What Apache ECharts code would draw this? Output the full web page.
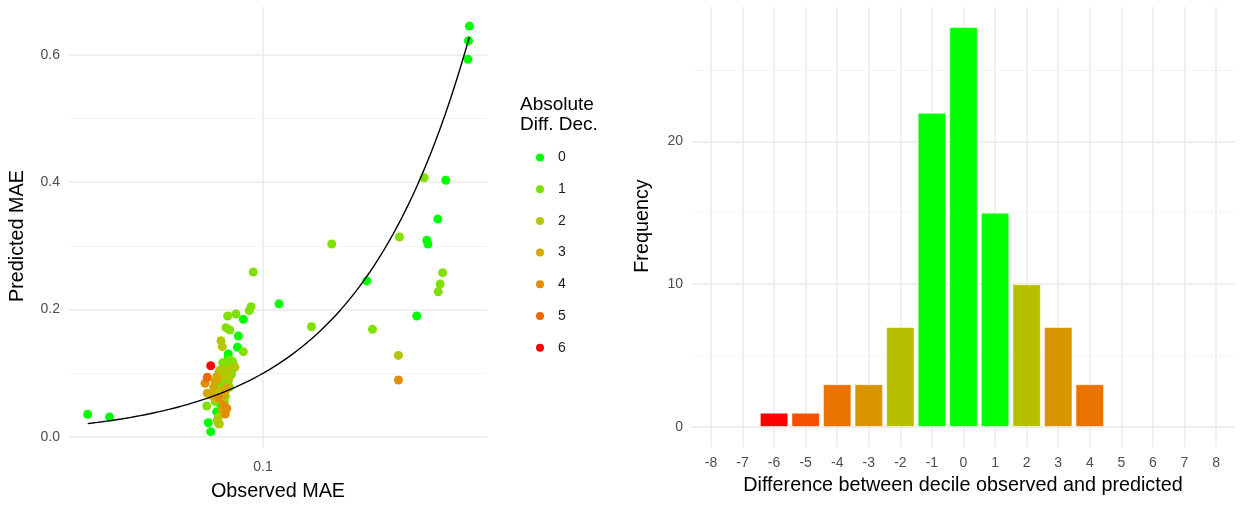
<!DOCTYPE html>
<html><head><meta charset="utf-8">
<script src="https://cdn.jsdelivr.net/npm/echarts@6/dist/echarts.min.js"></script>
<style>html,body{margin:0;padding:0;background:#fff}#c{width:1240px;height:507px}</style>
</head><body><div id="c"></div><script>
// ---------- DATA ----------
// Scatter: [Observed MAE, Predicted MAE] grouped by absolute decile difference
const diffLevels = ['0', '1', '2', '3', '4', '5', '6'];
const pointsDiff0 = [
  [0.021,0.0356],[0.0255,0.0314],[0.628,0.645],[0.623,0.622],[0.62,0.593],[0.509,0.403],
  [0.474,0.342],[0.43,0.309],[0.434,0.303],[0.252,0.245],[0.393,0.19],[0.1153,0.209],
  [0.0839,0.1848],[0.0803,0.1586],[0.0796,0.1408],[0.0734,0.1303],[0.0734,0.1235],[0.0682,0.0801],
  [0.0678,0.0608],[0.0678,0.0538],[0.0662,0.0397],[0.0615,0.0224],[0.0628,0.0083],
  [0.0692,0.0745],[0.0682,0.0895],[0.0706,0.0662],[0.0745,0.115],[0.0699,0.0475]
];
const pointsDiff1 = [
  [0.42,0.407],[0.337,0.314],[0.1844,0.303],[0.495,0.258],[0.484,0.240],[0.476,0.228],[0.265,0.169],[0.154,0.173],
  [0.0917,0.259],[0.0899,0.2046],[0.0885,0.1983],[0.0786,0.1931],[0.073,0.19],[0.0719,0.1716],[0.0745,0.168],
  [0.0839,0.1339],[0.0699,0.1166],[0.0757,0.1041],[0.0699,0.0895],[0.0606,0.0487],
  [0.0722,0.112],[0.0712,0.1],[0.0765,0.108],[0.0755,0.098],[0.0728,0.093],[0.0702,0.083],[0.0741,0.078],
  [0.0768,0.114],[0.0688,0.072],[0.0715,0.064],[0.0695,0.105],[0.0734,0.0875],[0.0709,0.055],[0.0653,0.056],
  [0.0675,0.101],[0.0742,0.121],[0.0762,0.1185]
];
const pointsDiff2 = [
  [0.334,0.128],
  [0.0688,0.1512],[0.0696,0.1418],[0.0779,0.1094],[0.0682,0.1052],[0.0741,0.0937],[0.0678,0.0686],
  [0.0652,0.0608],[0.0666,0.0267],[0.0678,0.0204],[0.0672,0.0215],
  [0.0708,0.098],[0.0665,0.075],[0.0692,0.058],[0.0672,0.031],[0.0725,0.105],[0.0645,0.066]
];
const pointsDiff3 = [
  [0.0662,0.0947],[0.0652,0.0868],[0.0724,0.078],[0.0609,0.0686],[0.0702,0.0659],
  [0.0632,0.0655],[0.0668,0.09],[0.0715,0.072],[0.0645,0.078],[0.0698,0.0425]
];
const pointsDiff4 = [
  [0.334,0.0895],[0.0597,0.0843],[0.0702,0.0502],[0.0715,0.036],[0.0725,0.045],[0.0672,0.062]
];
const pointsDiff5 = [[0.0609,0.0937]];
const pointsDiff6 = [[0.0628,0.1119]];
const scatterGroups = [pointsDiff0, pointsDiff1, pointsDiff2, pointsDiff3, pointsDiff4, pointsDiff5, pointsDiff6];

// Histogram
const histDiffs = [-6, -5, -4, -3, -2, -1, 0, 1, 2, 3, 4];
const histFreq  = [ 1,  1,  3,  3,  7, 22, 28, 15, 10, 7, 3];
const histTickLabels = [-8,-7,-6,-5,-4,-3,-2,-1,0,1,2,3,4,5,6,7,8];

// Texts
const titles = {
  legend: 'Absolute\nDiff. Dec.',
  leftY: 'Predicted MAE',
  leftX: 'Observed MAE',
  rightY: 'Frequency',
  rightX: 'Difference between decile observed and predicted'
};

// ---------- STYLES ----------
const levelColors = ['#00FF00','#80E000','#B4C800','#D4AA00','#E38D00','#EF6700','#FF0000'];
const barColorByDiff = {'-6':'#FF0000','-5':'#F54F00','-4':'#EA7300','-3':'#D99500','-2':'#B6C000',
  '-1':'#00FF00','0':'#00FF00','1':'#00FF00','2':'#B6C000','3':'#D99500','4':'#EA7300'};
const FONT = 'Liberation Sans, Arial, sans-serif';
const tickStyle = {color:'#4D4D4D', fontSize:14, fontFamily:FONT};
const majorLine = {color:'#EBEBEB', width:1.5};
const minorLine = {color:'#F2F2F2', width:0.8};
const titleStyle = (text) => ({text, fontSize:19.8, fontFamily:FONT, fill:'#000', align:'center', verticalAlign:'middle'});

// identity reference line (y = x) spanning observed range
const allObs = scatterGroups.flat().map(p => p[0]);
const obsMin = Math.min(...allObs), obsMax = Math.max(...allObs);
const identityLine = [];
for (let i = 0; i <= 80; i++) {
  const v = Math.exp(Math.log(obsMin) + (Math.log(obsMax) - Math.log(obsMin)) * i / 80);
  identityLine.push([v, v]);
}

const near = (v, step) => Math.abs(v / step - Math.round(v / step)) < 1e-6;

const chart = echarts.init(document.getElementById('c'), null, {renderer:'canvas'});
const option = {
  animation: false,
  backgroundColor: '#fff',
  grid: [
    {left: 69, top: 7, width: 418, height: 441},
    {left: 692, top: 7, width: 543, height: 440}
  ],
  xAxis: [
    {type:'log', gridIndex:0, logBase:10, min:0.01778, max:0.7348,
     axisLine:{show:false}, axisTick:{show:false},
     axisLabel:{...tickStyle, margin:12, formatter: v => (Math.abs(v-0.1)<1e-9 ? '0.1' : '')},
     splitLine:{show:true, lineStyle:majorLine, showMinLine:false, showMaxLine:false},
     minorSplitLine:{show:false}},
    {type:'value', gridIndex:1, min:-8.6, max:8.6, minInterval:1, maxInterval:1,
     axisLine:{show:false}, axisTick:{show:false},
     axisLabel:{...tickStyle, margin:9, formatter: v => (near(v,1) ? String(Math.round(v)) : '')},
     splitLine:{show:true, lineStyle:majorLine, showMinLine:false, showMaxLine:false}}
  ],
  yAxis: [
    {type:'value', gridIndex:0, min:-0.0173, max:0.675, minInterval:0.2, maxInterval:0.2,
     axisLine:{show:false}, axisTick:{show:false},
     axisLabel:{...tickStyle, margin:9, formatter: v => (near(v,0.2) ? v.toFixed(1) : '')},
     splitLine:{show:true, lineStyle:majorLine, showMinLine:false, showMaxLine:false}, z:1},
    {type:'value', gridIndex:0, min:-0.0173, max:0.675, minInterval:0.1, maxInterval:0.1,
     position:'left', axisLine:{show:false}, axisTick:{show:false}, axisLabel:{show:false},
     splitLine:{show:true, lineStyle:minorLine, showMinLine:false, showMaxLine:false}, z:0},
    {type:'value', gridIndex:1, min:-1.4, max:29.4, minInterval:10, maxInterval:10,
     axisLine:{show:false}, axisTick:{show:false},
     axisLabel:{...tickStyle, margin:9, formatter: v => (near(v,10) ? String(Math.round(v)) : '')},
     splitLine:{show:true, lineStyle:majorLine, showMinLine:false, showMaxLine:false}, z:1},
    {type:'value', gridIndex:1, min:-1.4, max:29.4, minInterval:5, maxInterval:5,
     position:'left', axisLine:{show:false}, axisTick:{show:false}, axisLabel:{show:false},
     splitLine:{show:true, lineStyle:minorLine, showMinLine:false, showMaxLine:false}, z:0}
  ],
  legend: {
    orient:'vertical', left:531, top:145.5, itemGap:17.7,
    itemWidth:8, itemHeight:8, icon:'circle', selectedMode:false,
    data: diffLevels,
    textStyle:{color:'#1A1A1A', fontSize:14, fontFamily:FONT, padding:[0,0,0,9]}
  },
  graphic: [
    {type:'text', x:520, y:95, style:{text:titles.legend, fontSize:19, lineHeight:20, fontFamily:FONT, fill:'#000'}},
    {type:'text', x:18, y:236, rotation:Math.PI/2, style:titleStyle(titles.leftY)},
    {type:'text', x:278, y:492, style:titleStyle(titles.leftX)},
    {type:'text', x:643, y:226, rotation:Math.PI/2, style:titleStyle(titles.rightY)},
    {type:'text', x:963, y:486, style:titleStyle(titles.rightX)}
  ],
  series: [
    ...scatterGroups.map((pts, i) => ({
      type:'scatter', name: diffLevels[i], xAxisIndex:0, yAxisIndex:0,
      data: pts, symbolSize:9, itemStyle:{color: levelColors[i], opacity:1}, z:2
    })),
    {type:'line', name:'identity', xAxisIndex:0, yAxisIndex:0, data: identityLine,
     showSymbol:false, symbol:'none', lineStyle:{color:'#000', width:1.4}, z:3, silent:true},
    {type:'bar', name:'hist', xAxisIndex:1, yAxisIndex:2, barWidth:28.5,
     data: histDiffs.map((d, i) => ({value:[d, histFreq[i]], itemStyle:{color: barColorByDiff[String(d)]}})),
     itemStyle:{borderColor:'rgba(255,255,255,0.55)', borderWidth:1}}
  ]
};
chart.setOption(option);
</script></body></html>
